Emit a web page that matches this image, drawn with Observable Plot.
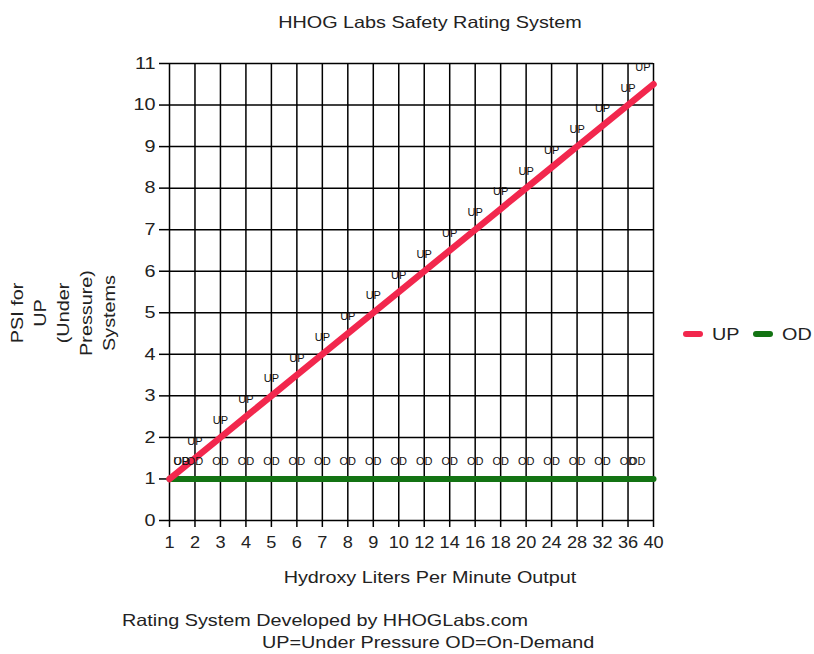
<!DOCTYPE html>
<html>
<head>
<meta charset="utf-8">
<script src="https://cdn.jsdelivr.net/npm/d3@7"></script>
<script src="https://cdn.jsdelivr.net/npm/@observablehq/plot@0.6"></script>
<style>
  body { margin: 0; background: #fff; font-family: "Liberation Sans", Arial, sans-serif; color: #222; }
  #wrap { position: relative; width: 814px; height: 654px; overflow: hidden; }
  #chart { position: absolute; left: 0; top: 0; }
  .t { position: absolute; white-space: nowrap; font-size: 16.5px; line-height: 16.5px; }
  .c { transform: translateX(-50%) scaleX(1.2); transform-origin: 50% 50%; }
  .l { transform: scaleX(1.2); transform-origin: 0 50%; }
  #title { left: 430px; top: 14px; }
  #xlabel { left: 430px; top: 569px; }
  #cap1 { left: 122px; top: 612px; }
  #cap2 { left: 262px; top: 634px; }
  #ylabel { position: absolute; left: 63px; top: 313px; width: 0; height: 0; }
  #ylabel div { position: absolute; white-space: nowrap; transform: translate(-50%,-50%) rotate(-90deg) scaleX(1.2); font-size: 16.5px; line-height: 16.5px; }
  #legend { position: absolute; left: 683px; top: 326px; font-size: 16.5px; line-height: 16.5px; display: flex; align-items: center; white-space: nowrap; }
  .sw { display: inline-block; width: 20px; height: 6px; border-radius: 3px; margin-right: 9px; }
  .lt { display: inline-block; transform: scaleX(1.2); transform-origin: 0 50%; }
</style>
</head>
<body>
<div id="wrap">
  <div id="chart"></div>
  <div class="t c" id="title">HHOG Labs Safety Rating System</div>
  <div class="t c" id="xlabel">Hydroxy Liters Per Minute Output</div>
  <div class="t l" id="cap1">Rating System Developed by HHOGLabs.com</div>
  <div class="t l" id="cap2">UP=Under Pressure OD=On-Demand</div>
  <div id="ylabel"></div>
  <div id="legend"></div>
</div>
<script>
const categories = ["1","2","3","4","5","6","7","8","9","10","12","14","16","18","20","24","28","32","36","40"];
const upValues = [1,1.5,2,2.5,3,3.5,4,4.5,5,5.5,6,6.5,7,7.5,8,8.5,9,9.5,10,10.5];
const odValues = [1,1,1,1,1,1,1,1,1,1,1,1,1,1,1,1,1,1,1,1];
const yTicks = [0,1,2,3,4,5,6,7,8,9,10,11];
const seriesNames = ["UP","OD"];
const seriesColors = ["#f2274d","#137313"];
const yLabelLines = ["PSI for","UP","(Under","Pressure)","Systems"];

const up = categories.map((c, i) => ({x: c, y: upValues[i], s: "UP", i}));
const od = categories.map((c, i) => ({x: c, y: odValues[i], s: "OD", i}));
const labels = [...od, ...up];
const last = categories.length - 1;

const labelStyle = {x: "x", y: "y", text: "s", fontSize: 11, fill: "#111", dy: -17};

const plot = Plot.plot({
  width: 814,
  height: 654,
  marginLeft: 169,
  marginRight: 161,
  marginTop: 63,
  marginBottom: 134,
  style: {fontFamily: "Liberation Sans, Arial, sans-serif", fontSize: "16.5px", color: "#222", background: "transparent"},
  x: {type: "point", domain: categories, padding: 0, round: false, label: null},
  y: {domain: [0, 11], label: null},
  marks: [
    Plot.gridY(yTicks, {stroke: "#000", strokeOpacity: 1, strokeWidth: 1.5}),
    Plot.gridX(categories, {stroke: "#000", strokeOpacity: 1, strokeWidth: 1.5}),
    Plot.axisY(yTicks, {tickSize: 10, tickPadding: 4, stroke: "#000", strokeWidth: 1.5, fontSize: 16.5, fill: "#222"}),
    Plot.axisX(categories, {tickSize: 7, tickPadding: 9, stroke: "#000", strokeWidth: 1.5, fontSize: 16.5, fill: "#222"}),
    Plot.line(od, {x: "x", y: "y", stroke: seriesColors[1], strokeWidth: 6, strokeLinecap: "round"}),
    Plot.line(up, {x: "x", y: "y", stroke: seriesColors[0], strokeWidth: 6.5, strokeLinecap: "round"}),
    Plot.text(labels.filter(d => d.i > 0 && d.i < last), {...labelStyle}),
    Plot.text(labels.filter(d => d.i === 0), {...labelStyle, textAnchor: "start", dx: 4}),
    Plot.text(od.filter(d => d.i === last), {...labelStyle, textAnchor: "end", dx: -8}),
    Plot.text(up.filter(d => d.i === last), {...labelStyle, textAnchor: "end", dx: -3})
  ]
});
document.getElementById("chart").appendChild(plot);

// widen axis tick label glyphs (reference text is wide-set)
function widen(selector, k) {
  plot.querySelectorAll(selector).forEach(el => {
    const len = el.getComputedTextLength();
    if (len > 0) {
      el.setAttribute("textLength", (len * k).toFixed(2));
      el.setAttribute("lengthAdjust", "spacingAndGlyphs");
    }
  });
}
widen('[aria-label="y-axis tick label"] text', 1.2);
widen('[aria-label="x-axis tick label"] text', 1.1);

const yl = document.getElementById("ylabel");
yLabelLines.forEach((t, k) => {
  const d = document.createElement("div");
  d.textContent = t;
  d.style.left = (-46 + k * 23) + "px";
  d.style.top = "0px";
  yl.appendChild(d);
});

const lg = document.getElementById("legend");
seriesNames.forEach((n, k) => {
  const item = document.createElement("span");
  item.style.display = "inline-flex";
  item.style.alignItems = "center";
  item.style.marginRight = "18px";
  item.innerHTML = `<span class="sw" style="background:${seriesColors[k]}"></span><span class="lt">${n}</span>`;
  lg.appendChild(item);
});
</script>
</body>
</html>
